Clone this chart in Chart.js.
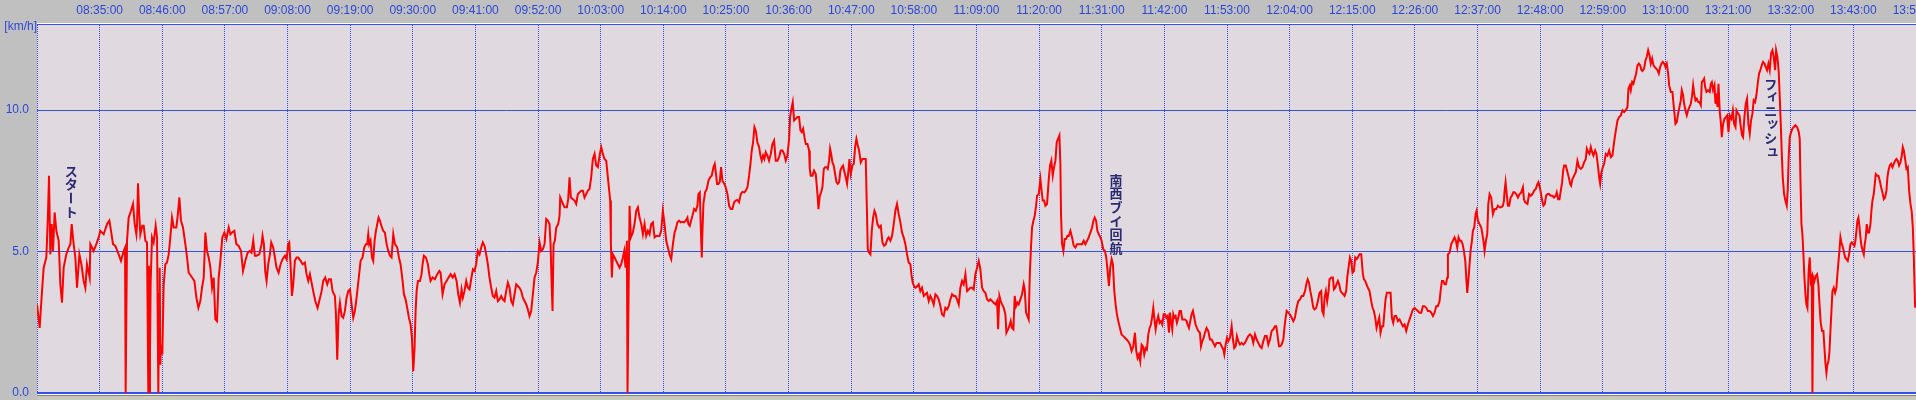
<!DOCTYPE html>
<html lang="ja">
<head>
    <meta charset="UTF-8">
    <title>速度グラフ</title>
    <style>
        body {
            margin: 0;
            background-color: #c0c0c0;
        }
        #speedChart {
            display: block;
        }
    </style>
</head>
<body>
    <canvas id="speedChart" width="1916" height="400"></canvas>
    <script src="https://cdn.jsdelivr.net/npm/chart.js"></script>
    <script>
        // minutes after 08:24:00
        const minutes = [
            0.00, 0.47, 0.88, 1.17, 1.64, 1.93, 2.11, 2.34, 2.58, 2.81,
            3.10, 3.40, 3.81, 4.10, 4.39, 4.68, 5.15, 5.56, 5.86, 6.09,
            6.44, 6.73, 7.03, 7.44, 7.79, 8.20, 8.49, 8.78, 9.25, 9.37,
            9.95, 10.42, 10.83, 11.12, 11.71, 12.30, 12.71, 13.00, 13.35, 13.76,
            14.34, 14.75, 15.22, 15.46, 15.57, 15.81, 16.10, 16.51, 16.86, 17.16,
            17.45, 17.57, 17.74, 17.92, 18.15, 18.50, 18.74, 19.03, 19.32, 19.55,
            19.67, 19.72, 19.84, 19.96, 20.20, 20.49, 20.84, 21.08, 21.31, 21.43,
            21.55, 21.66, 21.78, 22.01, 22.25, 22.54, 22.83, 23.13, 23.42, 23.71,
            24.01, 24.47, 24.71, 25.00, 25.29, 25.64, 26.05, 26.35, 26.64, 27.23,
            27.64, 27.99, 28.34, 28.69, 28.98, 29.28, 29.57, 29.86, 30.15, 30.45,
            30.74, 31.03, 31.32, 31.62, 31.91, 32.20, 32.55, 32.91, 33.26, 33.67,
            33.96, 34.25, 34.66, 35.01, 35.42, 35.83, 36.18, 36.59, 37.00,
            // 08:61 ..
            37.39, 37.68, 37.98, 38.27, 38.56, 39.03, 39.44, 39.61, 39.85, 40.08,
            40.32, 40.61, 40.90, 41.14, 41.49, 41.78, 42.07, 42.43, 42.78, 43.13,
            43.54, 43.83, 44.12, 44.30, 44.53, 44.77, 45.00, 45.29, 45.59, 45.88,
            46.29, 46.64, 47.05, 47.34, 47.64, 47.93, 48.28, 48.51, 48.87, 49.28,
            49.57, 49.98, 50.27, 50.62, 50.97, 51.27, 51.62, 51.91, 52.32, 52.50,
            52.73, 52.97, 53.20, 53.49, 53.78, 54.08, 54.37, 54.66, 54.96, 55.25,
            55.54, 55.83, 56.13, 56.48, 56.83, 57.18, 57.47, 57.77, 58.00, 58.18,
            58.35, 58.58, 58.82, 59.05, 59.29, 59.52, 59.76, 59.99, 60.22, 60.58,
            60.81, 61.10, 61.40, 61.69, 61.98, 62.27, 62.57, 62.86, 63.27, 63.56,
            63.85, 64.21, 64.44, 64.73, 65.02, 65.32, 65.61, 65.85, 66.08, 66.31,
            66.49, 66.67, 66.90, 67.25, 67.54, 67.72, 67.95, 68.30, 68.65, 68.89,
            69.12, 69.47, 69.88, 70.30, 70.65, 70.88, 71.23, 71.58, 71.93, 72.28,
            72.64, 72.99, 73.34, 73.69, 73.98, 74.28, 74.57,
            74.79, 75.08, 75.38, 75.67, 75.96, 76.25, 76.55, 76.84, 77.13, 77.42,
            77.72, 78.01, 78.30, 78.60, 78.89, 79.18, 79.47, 79.77, 80.06, 80.35,
            80.65, 80.94, 81.23, 81.52, 81.82, 82.11, 82.40, 82.69, 82.99, 83.28,
            83.57, 83.87, 84.16, 84.45, 84.74, 85.04, 85.33, 85.62, 85.92, 86.21,
            86.50, 86.79, 87.09, 87.38, 87.67, 87.96, 88.26, 88.55, 88.84, 89.14,
            89.43, 89.72, 90.01, 90.19, 90.37, 90.54, 90.72, 90.95, 91.19, 91.54,
            91.77, 91.89, 92.24, 92.65, 93.06, 93.29, 93.53, 93.76, 94.11, 94.40,
            94.70, 94.99, 95.28, 95.58, 95.87, 96.16, 96.45, 96.75, 97.04, 97.33,
            97.62, 97.92, 98.21, 98.50, 98.80, 99.09, 99.38, 99.67, 99.97, 100.26,
            100.43, 100.67, 100.79, 100.96, 101.14, 101.43, 101.72, 102.02, 102.31, 102.60,
            102.89, 103.13, 103.36, 103.60, 103.71, 103.89, 104.07, 104.30, 104.65, 104.94,
            105.24, 105.53, 105.82, 106.12, 106.41, 106.70, 106.99, 107.29, 107.58, 107.87,
            108.17, 108.46, 108.75, 109.34, 109.63, 109.92, 110.21, 110.51, 110.80, 111.09,
            111.39, 111.68, 111.97,
            112.18, 112.47, 112.77, 113.06, 113.35, 113.64, 113.94, 114.23, 114.40, 114.64,
            114.87, 115.11, 115.40, 115.69, 115.99, 116.16, 116.40, 116.57, 116.75, 116.86,
            117.04, 117.33, 117.63, 117.92, 118.21, 118.50, 118.80, 119.03, 119.21, 119.44,
            119.67, 119.91, 120.14, 120.38, 120.73, 120.96, 121.26, 121.55, 121.84, 122.13,
            122.43, 122.72, 123.01, 123.30, 123.60, 123.89, 124.24, 124.48, 124.77, 125.06,
            125.30, 125.53, 125.76, 126.00, 126.23, 126.52, 126.82, 127.05, 127.29, 127.52,
            127.75, 127.99, 128.28, 128.57, 128.87, 129.16, 129.45, 129.74, 130.04, 130.33,
            130.62, 130.92, 131.21, 131.50, 131.79, 132.09, 132.26, 132.50, 132.73, 132.97,
            133.26, 133.55, 133.84, 134.08, 134.31, 134.55, 134.78, 135.02, 135.31, 135.60,
            135.72, 135.89, 136.19, 136.48, 136.77, 137.07, 137.24, 137.48, 137.71, 137.94,
            138.18, 138.41, 138.65, 138.88, 139.11, 139.29, 139.47, 139.70, 139.93, 140.17,
            140.40, 140.64, 140.87, 141.10, 141.34, 141.57, 141.81, 142.04, 142.27, 142.51,
            142.68, 142.92, 143.21, 143.45, 143.68, 143.91, 144.15, 144.38, 144.67, 144.97,
            145.26, 145.55, 145.73, 145.90, 146.14, 146.37, 146.61, 146.84, 147.08, 147.31,
            147.60, 147.90, 148.19, 148.48, 148.77, 149.07, 149.36,
            149.58, 149.87, 150.17, 150.46, 150.75, 151.04, 151.34, 151.63, 151.92, 152.21,
            152.51, 152.80, 153.09, 153.39, 153.56, 153.80, 154.03, 154.26, 154.62, 154.85,
            155.14, 155.44, 155.73, 156.02, 156.31, 156.61, 156.90, 157.19, 157.48, 157.78,
            158.07, 158.36, 158.66, 158.95, 159.24, 159.53, 159.83, 160.12, 160.41, 160.71,
            161.00, 161.29, 161.58, 161.88, 162.17, 162.46, 162.75, 163.05, 163.34, 163.63,
            163.93, 164.22, 164.51, 164.80, 165.10, 165.39, 165.68, 165.98, 166.27, 166.56,
            166.85, 167.15, 167.44, 167.73, 168.02, 168.32, 168.61, 168.79, 169.02, 169.25,
            169.49, 169.78, 170.07, 170.25, 170.54, 170.78, 171.01, 171.24, 171.48, 171.71,
            171.95, 172.18, 172.41, 172.71, 173.00, 173.29, 173.47, 173.70, 173.94, 174.17,
            174.35, 174.58, 174.76, 174.99, 175.23, 175.46, 175.64, 175.93, 176.22, 176.40,
            176.63, 176.87, 177.10, 177.39, 177.69, 177.92, 178.15, 178.39, 178.62, 178.86,
            179.09, 179.32, 179.56, 179.73, 179.85, 180.03, 180.26, 180.49, 180.73, 180.96,
            181.20, 181.49, 181.78, 182.08, 182.37, 182.66, 182.95, 183.54, 183.83, 184.12,
            184.42, 184.71, 185.00, 185.30, 185.53, 185.76, 186.00, 186.23, 186.47, 186.76,
            186.97, 187.26, 187.56, 187.79, 188.02, 188.26, 188.49, 188.73, 188.96, 189.20,
            189.43, 189.66, 189.90, 190.19, 190.48, 190.78, 191.07, 191.36, 191.65, 191.95,
            192.24, 192.53, 192.83, 193.06, 193.29, 193.53, 193.76, 194.00, 194.23, 194.46,
            194.70, 194.93, 195.17, 195.40, 195.64, 195.87, 196.05, 196.22, 196.46, 196.69,
            196.92, 197.16, 197.39, 197.63, 197.86, 198.09, 198.33, 198.56, 198.80, 198.97,
            199.15, 199.38, 199.56, 199.73, 199.97, 200.20, 200.44, 200.67, 200.90, 201.14,
            201.37, 201.61, 201.90, 202.07, 202.31, 202.54, 202.78, 203.01, 203.25, 203.48,
            203.71, 203.95, 204.24, 204.42, 204.65, 204.89, 205.12, 205.41, 205.71, 206.00,
            206.29, 206.58, 206.88, 207.17, 207.46, 207.76, 208.05, 208.34, 208.52, 208.75,
            208.99, 209.22, 209.51, 209.81, 210.04, 210.27, 210.51, 210.74, 210.98, 211.27,
            211.56, 211.86, 212.15, 212.44, 212.73, 213.03, 213.32, 213.61, 213.91, 214.20,
            214.49, 214.78, 215.08, 215.37, 215.66, 215.96, 216.25, 216.54, 216.83, 217.13,
            217.42, 217.65, 217.89, 218.12, 218.35, 218.59, 218.88, 219.17, 219.47, 219.76,
            220.05, 220.35, 220.64, 220.93, 221.22, 221.52, 221.81, 222.10, 222.39, 222.69,
            222.98, 223.16, 223.39, 223.63, 223.86, 224.15,
            224.37, 224.66, 224.96, 225.25, 225.54, 225.72, 225.95, 226.13, 226.36, 226.59,
            226.83, 227.00, 227.30, 227.59, 227.77, 228.00, 228.23, 228.47, 228.70, 228.94,
            229.17, 229.41, 229.64, 229.93, 230.11, 230.34, 230.58, 230.81, 231.04, 231.28,
            231.51, 231.75, 231.98, 232.27, 232.57, 232.86, 233.04, 233.27, 233.50, 233.74,
            234.03, 234.32, 234.56, 234.79, 235.03, 235.26, 235.49, 235.73, 235.96, 236.20,
            236.43, 236.66, 236.84, 237.07, 237.37, 237.72, 237.95, 238.19, 238.42, 238.71,
            239.01, 239.30, 239.59, 239.89, 240.18, 240.47, 240.76, 241.06, 241.35, 241.64,
            241.94, 242.23, 242.52, 242.81, 243.11, 243.40, 243.69, 243.98, 244.28, 244.57,
            244.86, 245.16, 245.45, 245.74, 246.03, 246.33, 246.50, 246.74, 246.97, 247.21,
            247.44, 247.67, 247.79, 248.08, 248.38, 248.67, 248.96, 249.20, 249.43, 249.66,
            249.90, 250.13, 250.37, 250.60, 250.84, 251.01, 251.19, 251.42, 251.60, 251.77,
            252.01, 252.18, 252.42, 252.65, 252.83, 253.06, 253.35, 253.65, 253.94, 254.11,
            254.23, 254.47, 254.70, 254.88, 255.11, 255.40, 255.70, 255.99, 256.28, 256.57,
            256.87, 257.16, 257.45, 257.63, 257.75, 257.92, 258.15, 258.33, 258.56, 258.80,
            259.03, 259.27, 259.50, 259.79, 260.09, 260.38, 260.67, 260.97, 261.14, 261.37,
            261.76, 262.05, 262.35, 262.64, 262.93, 263.22, 263.52, 263.69, 263.93, 264.10,
            264.34, 264.57, 264.81, 265.04, 265.27, 265.57, 265.86, 266.15, 266.44, 266.74,
            266.91, 267.15, 267.38, 267.62, 267.85, 268.03, 268.20, 268.49, 268.79, 269.02,
            269.26, 269.43, 269.66, 269.96, 270.25, 270.54, 270.84, 271.13, 271.42, 271.71,
            272.01, 272.18, 272.42, 272.65, 272.89, 273.12, 273.35, 273.65, 273.88, 274.17,
            274.35, 274.53, 274.76, 275.00, 275.23, 275.52, 275.81, 276.11, 276.40, 276.69,
            276.87, 277.10, 277.34, 277.57, 277.86, 278.16, 278.45, 278.74, 279.03, 279.33,
            279.50, 279.74, 279.91, 280.15, 280.38, 280.61, 280.85, 281.08, 281.32, 281.55,
            281.79, 281.96, 282.25, 282.49, 282.72, 282.96, 283.19, 283.42, 283.66, 283.89,
            284.13, 284.36, 284.59, 284.83, 285.06, 285.30, 285.53, 285.77, 286.00, 286.23,
            286.47, 286.65, 286.94, 287.23, 287.41, 287.58, 287.76, 287.99, 288.23, 288.46,
            288.69, 288.87, 289.10, 289.28, 289.51, 289.75, 289.98, 290.22, 290.45, 290.68,
            290.86, 291.04, 291.27, 291.50, 291.74, 291.97, 292.21, 292.38, 292.62, 292.79,
            292.97, 293.20, 293.49, 293.79, 293.96, 294.14, 294.37, 294.61, 294.78, 294.96,
            295.13, 295.31, 295.54, 295.72, 295.89, 296.13, 296.36, 296.60, 296.83, 297.07,
            297.30, 297.59, 297.83, 298.06, 298.30, 298.47, 298.77, 299.00,
            299.16, 299.45, 299.63, 299.86, 300.10, 300.33, 300.56, 300.80, 301.03, 301.27,
            301.50, 301.74, 301.97, 302.20, 302.44, 302.67, 302.91, 303.14, 303.38, 303.61,
            303.84, 304.08, 304.31, 304.55, 304.78, 305.02, 305.25, 305.43, 305.66, 305.89,
            306.07, 306.25, 306.42, 306.60, 306.83, 307.06, 307.30, 307.48, 307.65, 307.83,
            308.06, 308.29, 308.53, 308.82, 309.11, 309.41, 309.58, 309.70, 309.88, 310.05,
            310.23, 310.40, 310.58, 310.75, 310.93, 311.16, 311.34, 311.52, 311.69, 311.81,
            311.98, 312.16, 312.39, 312.63, 312.86, 313.09, 313.27, 313.51, 313.74, 313.92,
            314.09, 314.27, 314.44, 314.62, 314.79, 314.97, 315.15, 315.32, 315.55, 315.79,
            316.02, 316.20, 316.37, 316.55, 316.73, 316.90, 317.08, 317.31, 317.55, 317.78,
            318.01, 318.25, 318.48, 318.72, 318.95, 319.19, 319.36, 319.54, 319.71, 319.89,
            320.06, 320.24, 320.42, 320.65, 320.83, 321.00, 321.18, 321.35, 321.53, 321.76,
            322.00, 322.17, 322.35, 322.58, 322.76, 322.93, 323.17, 323.40, 323.64, 323.87,
            324.11, 324.34, 324.57, 324.81, 324.98, 325.16, 325.39, 325.63, 325.86, 326.10,
            326.33, 326.56, 326.80, 327.03, 327.27, 327.50, 327.68, 327.86, 328.09, 328.32,
            328.56, 328.79, 329.03, 329.26, 329.44, 329.62, 329.73, 329.85
        ];

        // km/h
        const speed = [
            3.13, 2.30, 3.60, 4.43, 4.79, 6.32, 7.68, 4.90, 5.97, 5.02,
            6.38, 5.73, 5.38, 3.84, 3.19, 4.43, 4.90, 5.14, 5.26, 5.97,
            5.26, 4.79, 3.72, 4.90, 4.55, 3.96, 3.72, 4.55, 4.08, 5.26,
            5.02, 5.26, 5.50, 5.73, 5.61, 5.97, 6.09, 5.73, 5.26, 5.20,
            4.90, 4.67, 5.02, 5.14, 0, 5.38, 6.20, 6.44, 6.68, 5.97,
            5.61, 5.97, 7.41, 6.44, 5.61, 5.91, 5.91, 5.38, 5.32, 0,
            4.50, 0, 1.36, 3.90, 5.50, 5.32, 5.91, 5.50, 0, 3.50,
            4.43, 1.00, 1.71, 1.36, 3.84, 4.55, 4.61, 4.90, 5.50, 6.20,
            5.85, 5.85, 6.26, 6.91, 6.09, 5.85, 5.26, 4.79, 4.25, 4.08,
            3.96, 3.37, 3.01, 3.25, 3.72, 4.08, 5.67, 5.02, 4.79, 4.43,
            3.72, 4.08, 2.60, 2.54, 4.08, 4.67, 5.50, 5.67, 5.44, 5.85,
            5.61, 5.67, 5.73, 5.26, 5.20, 5.02, 4.31, 4.67, 4.96,
            5.02, 4.96, 5.40, 4.85, 4.85, 4.90, 5.26, 5.55, 5.26, 4.31,
            3.96, 4.55, 4.90, 5.32, 5.14, 4.79, 4.43, 4.25, 4.55, 4.73,
            4.85, 4.73, 5.26, 5.32, 4.55, 3.43, 3.84, 4.67, 4.79, 4.79,
            4.67, 4.55, 4.61, 4.20, 3.96, 4.20, 3.84, 3.60, 3.25, 3.01,
            3.25, 3.60, 3.96, 4.08, 3.84, 4.02, 4.02, 3.60, 3.43, 2.78,
            1.18, 2.78, 3.19, 2.72, 2.66, 2.90, 3.37, 3.60, 3.66, 3.13,
            2.66, 2.90, 3.37, 4.02, 4.67, 4.79, 5.14, 5.26, 5.26, 5.61,
            5.26, 5.38, 4.79, 4.67, 5.38, 5.73, 5.97, 6.20, 6.09, 5.85,
            5.73, 5.67, 5.26, 5.02, 4.85, 4.79, 5.61, 5.26, 5.14, 4.79,
            4.55, 3.96, 3.49, 3.31, 3.01, 2.66, 2.42, 1.95, 0.77, 1.59,
            2.90, 3.60, 3.96, 3.96, 4.20, 4.55, 4.85, 4.79, 4.55, 4.20,
            3.96, 4.08, 4.02, 4.20, 4.31, 4.25, 3.49, 3.84, 3.96, 4.08,
            4.20, 4.08, 4.20, 3.96, 3.49, 3.19, 3.66,
            3.37, 3.60, 3.96, 3.72, 3.66, 4.02, 4.37, 4.31, 4.55, 5.02,
            4.90, 5.14, 5.32, 5.20, 4.90, 4.55, 4.08, 3.72, 3.43, 3.37,
            3.60, 3.25, 3.31, 3.43, 3.31, 3.25, 3.60, 3.90, 3.72, 3.25,
            3.13, 3.49, 3.84, 3.78, 3.72, 3.60, 3.37, 3.25, 3.13, 2.95,
            2.72, 2.90, 3.49, 4.08, 4.25, 4.61, 5.32, 5.02, 5.08, 5.26,
            6.15, 6.09, 5.97, 5.26, 3.96, 2.90, 5.26, 5.38, 5.85, 5.97,
            6.26, 6.91, 6.74, 6.56, 6.56, 6.85, 7.62, 6.91, 6.85, 6.80,
            6.68, 7.03, 7.09, 7.15, 7.15, 6.91, 7.03, 7.15, 7.21, 7.62,
            8.27, 8.45, 8.04, 7.98, 8.39, 8.69, 8.45, 8.27, 8.21, 7.62,
            7.27, 6.80, 5.26, 4.08, 4.90, 4.79, 4.67, 4.55, 4.43, 4.55,
            4.79, 5.02, 4.43, 5.38, 0, 3.37, 6.62, 5.50, 5.67, 5.97,
            6.44, 6.56, 6.20, 5.97, 5.61, 5.97, 5.55, 5.73, 5.61, 5.97,
            6.03, 5.50, 5.55, 5.55, 5.73, 6.44, 5.97, 5.38, 5.14, 4.90,
            4.73, 5.26, 5.67,
            5.79, 6.03, 6.09, 6.03, 6.05, 6.03, 6.09, 6.20, 5.97, 5.91,
            6.09, 6.26, 6.50, 6.44, 6.62, 7.03, 7.09, 5.91, 4.79, 5.67,
            6.68, 7.09, 7.21, 7.50, 7.62, 7.68, 7.98, 8.10, 7.80, 7.39,
            7.39, 7.45, 7.98, 7.50, 7.39, 7.27, 7.03, 6.62, 6.50, 6.50,
            6.74, 6.80, 6.82, 6.74, 7.03, 7.11, 7.09, 7.15, 7.27, 7.68,
            8.10, 8.57, 8.86, 9.40, 9.28, 8.86, 8.69, 8.39, 8.21, 8.39,
            8.27, 8.51, 8.39, 8.21, 8.45, 8.80, 8.92, 8.21, 8.21, 8.33,
            8.57, 8.57, 8.45, 8.21, 8.39, 8.98, 9.75, 10.05, 10.28, 9.63,
            9.69, 9.75, 9.75, 9.28, 9.22, 9.34, 9.04, 8.80, 8.80, 8.57,
            7.92, 7.68, 7.68, 7.86, 7.74, 7.03, 6.50, 6.97, 7.09, 7.27,
            7.92, 7.98, 7.98, 7.92, 8.21, 8.63, 8.45, 8.15, 8.04, 7.74,
            7.45, 7.39, 7.45, 7.86, 7.98, 8.04, 7.80, 7.62, 7.39, 7.86,
            8.27, 7.74, 8.04, 8.10, 8.69, 8.98, 8.75, 8.57, 8.15, 8.27,
            8.27, 8.27, 6.68, 5.08, 4.96, 4.90, 5.73, 6.20, 6.44, 6.32,
            5.97, 5.85, 5.91, 5.32, 5.20, 5.26, 5.44,
            5.50, 5.38, 5.55, 5.97, 6.44, 6.68, 6.32, 6.03, 5.67, 5.50,
            5.26, 4.90, 4.61, 4.55, 4.20, 3.90, 3.78, 3.72, 3.78, 3.84,
            3.60, 3.72, 3.43, 3.49, 3.54, 3.25, 3.43, 3.31, 3.13, 3.49,
            3.43, 3.31, 3.07, 2.78, 2.72, 3.01, 2.95, 3.07, 3.31, 3.49,
            3.43, 3.43, 3.31, 3.13, 3.72, 3.96, 3.84, 4.20, 3.60, 3.66,
            3.72, 3.72, 3.66, 4.20, 4.43, 4.67, 4.37, 3.72, 3.60, 3.54,
            3.31, 3.25, 3.31, 3.25, 3.19, 3.13, 3.25, 2.25, 3.43, 3.25,
            3.13, 3.01, 2.78, 2.13, 2.25, 2.36, 2.54, 2.30, 2.25, 3.43,
            3.07, 3.19, 3.13, 3.31, 3.49, 3.84, 3.66, 2.84, 2.72, 2.60,
            4.14, 5.20, 5.85, 6.09, 6.26, 6.62, 6.97, 7.03, 7.56, 7.21,
            6.80, 6.80, 6.62, 6.68, 7.56, 8.04, 8.21, 7.68, 7.98, 8.21,
            8.86, 8.98, 9.10, 8.10, 6.26, 5.26, 5.02, 5.44, 5.44, 5.55,
            5.55, 5.73, 5.50, 5.20, 5.14, 5.26, 5.26, 5.26, 5.38, 5.26,
            5.38, 5.50, 5.67, 5.85, 6.09, 6.20, 6.09, 5.73, 5.61, 5.50,
            5.38, 5.08, 5.02, 4.79, 4.31, 3.78, 4.43, 4.73, 4.55, 3.60,
            3.13, 2.78, 2.54, 2.30, 2.07, 2.01, 1.95, 1.89, 1.83, 1.71,
            1.48, 1.65, 2.13, 1.48, 1.24, 1.36, 1.12, 1.71, 1.65, 1.36,
            1.59, 1.54, 2.07, 2.30, 2.42, 2.72, 3.01, 2.66, 2.25, 2.54,
            2.72, 2.48, 2.54, 2.42, 2.78, 2.78, 2.66, 2.72, 2.13, 2.84,
            2.54, 2.25, 2.78, 2.66, 2.72, 2.48, 2.66, 2.90, 2.90, 2.60,
            2.60, 2.60, 2.54, 2.42, 2.30, 2.54, 2.78, 2.90, 2.66, 2.42,
            2.30, 2.19, 2.13, 1.65, 1.83, 1.95, 2.13, 2.30, 2.19, 1.89,
            1.89, 1.77, 1.65, 1.77, 1.77, 1.77, 1.65, 1.54, 1.36, 1.71,
            1.95, 1.83, 1.95, 2.36, 1.89, 1.59, 1.65, 2.01, 1.83, 1.71,
            1.77, 1.71, 1.77, 1.89, 2.01, 2.07, 2.01, 1.77, 2.07, 1.89,
            1.77, 1.65, 1.59, 1.83, 2.01, 2.01, 1.71, 1.89, 2.19, 2.25,
            2.36, 2.36, 2.01, 1.65, 1.65, 1.71, 1.89, 2.48, 2.90, 2.84,
            2.78, 2.66, 2.54, 2.66, 3.01, 3.25, 3.31, 3.43, 3.43, 3.60,
            3.90, 4.02, 3.90, 3.60, 3.37, 3.01,
            2.95, 3.01, 3.25, 3.54, 3.60, 2.90, 2.78, 3.37, 3.60, 3.25,
            3.60, 4.02, 4.08, 4.08, 3.66, 3.72, 3.84, 3.96, 3.84, 3.60,
            3.54, 3.49, 3.43, 3.60, 4.08, 4.43, 4.79, 4.67, 4.25, 4.31,
            4.79, 4.73, 4.79, 4.90, 4.90, 4.20, 4.02, 3.96, 3.84, 3.72,
            3.60, 3.25, 3.01, 2.90, 2.66, 2.30, 2.48, 2.66, 2.13, 2.36,
            2.36, 2.90, 3.31, 3.54, 3.54, 3.54, 2.66, 2.48, 2.72, 2.72,
            2.54, 2.60, 2.48, 2.36, 2.42, 2.19, 2.42, 2.60, 2.78, 2.95,
            3.01, 2.95, 2.90, 2.84, 2.84, 3.07, 3.07, 3.01, 2.90, 2.90,
            2.84, 2.72, 2.84, 3.07, 3.07, 3.25, 3.60, 3.96, 3.96, 3.84,
            3.84, 4.08, 4.90, 4.96, 5.26, 5.38, 5.50, 5.38, 5.14, 5.50,
            5.38, 5.38, 5.26, 5.02, 4.67, 4.08, 3.54, 4.08, 4.55, 5.02,
            5.38, 5.73, 5.85, 6.32, 6.44, 6.09, 5.97, 5.85, 5.50, 5.26,
            5.02, 5.38, 5.61, 6.68, 7.03, 6.91, 6.32, 6.50, 6.50, 6.62,
            6.56, 6.56, 6.62, 6.80, 7.15, 7.45, 6.97, 6.62, 6.62, 6.91,
            6.97, 7.09, 7.09, 7.03, 6.91, 7.03, 7.09, 7.27, 6.85, 6.74,
            6.68, 7.03, 6.97, 7.03, 7.15, 7.21, 7.39, 7.45, 7.27, 7.09,
            6.80, 6.62, 6.68, 6.97, 7.03, 7.03, 6.97, 6.97, 6.91, 6.97,
            7.09, 6.85, 6.85, 7.15, 7.45, 7.86, 8.04, 8.04, 7.80, 7.62,
            7.39, 7.33, 7.56, 7.68, 7.80, 8.21, 7.98, 7.92, 7.98, 8.15,
            8.27, 8.63, 8.51, 8.45, 8.69, 8.51, 8.39, 8.57, 8.45, 7.98,
            7.62, 7.39, 7.80, 7.98, 8.10, 8.45, 8.39, 8.57, 8.33, 8.39,
            8.69, 9.04, 9.34, 9.63, 9.75, 9.81, 9.99, 9.93, 9.99, 10.11,
            10.76, 10.87, 10.70, 10.99, 10.93, 11.11, 11.29, 11.58, 11.64, 11.58,
            11.41, 11.38, 11.46, 11.76, 11.88, 12.11, 11.94, 11.64, 11.82, 11.58,
            11.52, 11.46, 11.41, 11.29, 11.52, 11.64, 11.70, 11.64, 11.52, 11.64,
            11.29, 10.87, 10.64, 10.64, 10.22, 9.87, 9.51, 9.57, 9.87, 10.11,
            10.34, 10.70, 10.52, 10.22, 9.99, 9.81, 9.99, 10.11, 10.22, 10.52,
            10.87, 10.58, 10.34, 10.40, 10.28, 10.28, 10.17, 10.99, 11.05, 11.11,
            10.81, 10.64, 10.70, 10.64, 10.93, 10.99, 10.70, 10.87, 10.22, 10.58,
            10.11, 10.93, 9.93, 9.57, 9.04, 9.51, 9.69, 9.75, 9.81, 9.22,
            9.81, 9.69, 9.99, 9.51, 9.40, 9.99, 9.87, 9.81,
            9.51, 9.10, 9.04, 9.75, 10.22, 10.40, 9.51, 9.16, 9.63, 9.87,
            10.34, 10.28, 10.52, 10.93, 11.29, 11.41, 11.58, 11.70, 11.64, 11.52,
            11.41, 11.64, 11.41, 12.00, 12.11, 11.88, 11.41, 12.11, 11.88, 11.35,
            10.46, 9.51, 8.51, 7.62, 7.03, 6.80, 6.62, 7.21, 8.39, 9.04,
            9.22, 9.34, 9.40, 9.46, 9.40, 9.22, 8.98, 7.62, 5.97, 5.61,
            4.90, 4.08, 3.49, 3.13, 3.01, 4.37, 4.79, 3.96, 4.08, 0,
            4.08, 3.96, 4.14, 4.20, 3.84, 3.01, 2.48, 2.19, 2.19, 1.59,
            1.06, 0.71, 1.00, 1.12, 1.42, 2.19, 2.90, 3.60, 3.72, 3.54,
            3.72, 4.20, 4.61, 5.02, 5.50, 5.32, 5.20, 5.02, 4.79, 4.73,
            4.67, 4.90, 5.26, 5.32, 5.26, 5.20, 5.38, 5.73, 6.09, 6.20,
            5.91, 5.50, 5.20, 5.02, 4.90, 5.26, 5.50, 5.97, 5.67, 5.67,
            5.97, 6.44, 6.80, 7.03, 7.39, 7.74, 7.68, 7.68, 7.50, 7.27,
            7.09, 6.85, 6.91, 7.15, 7.62, 7.86, 8.04, 8.10, 7.98, 8.10,
            8.21, 8.27, 8.21, 8.04, 8.15, 8.39, 8.69, 8.57, 8.27, 7.92,
            7.98, 7.15, 6.68, 6.38, 5.85, 4.79, 3.84, 3.01
        ];

        // x grid every 11 minutes from 08:24:00
        const tickMinutes = [0, 11, 22, 33, 44, 55, 66, 77, 88, 99, 110, 121, 132, 143, 154, 165,
            176, 187, 198, 209, 220, 231, 242, 253, 264, 275, 286, 297, 308, 319, 330];
        const tickLabels = ['', '08:35:00', '08:46:00', '08:57:00', '09:08:00', '09:19:00', '09:30:00',
            '09:41:00', '09:52:00', '10:03:00', '10:14:00', '10:25:00', '10:36:00', '10:47:00',
            '10:58:00', '11:09:00', '11:20:00', '11:31:00', '11:42:00', '11:53:00', '12:04:00',
            '12:15:00', '12:26:00', '12:37:00', '12:48:00', '12:59:00', '13:10:00', '13:21:00',
            '13:32:00', '13:43:00', '13:54:00'];
        const yTicks = [0, 5, 10];
        const yMax = 13.04;
        const unitLabel = '[km/h]';

        // vertical notes: text, time (minutes), top of text (km/h)
        const noteText = ['スタート', '南西ブイ回航', 'フィニッシュ'];
        const noteMinute = [6.0, 189.5, 304.5];
        const noteTop = [8.09, 7.77, 11.17];

        if (minutes.length !== speed.length) {
            throw new Error('minutes/speed length mismatch: ' + minutes.length + ' vs ' + speed.length);
        }

        const blue = '#2d46d8';
        const gridBlue = '#3550e6';

        // grey frame, plot background and the small strips around it
        const backdrop = {
            id: 'backdrop',
            beforeDraw(chart) {
                const {ctx, chartArea: a, width, height} = chart;
                ctx.save();
                ctx.fillStyle = '#c0c0c0';
                ctx.fillRect(0, 0, width, height);
                ctx.fillStyle = '#ffffff';
                ctx.fillRect(a.left, a.top - 1, width - a.left, 1);
                ctx.fillRect(a.left, a.bottom + 1, width - a.left, 1);
                ctx.fillStyle = '#808080';
                ctx.fillRect(a.left, a.bottom + 2, width - a.left, 1);
                ctx.fillStyle = '#cacabc';
                ctx.fillRect(a.left, a.bottom + 3, width - a.left, height - a.bottom - 3);
                ctx.fillStyle = '#e0dae0';
                ctx.fillRect(a.left, a.top, a.right - a.left, a.bottom - a.top);
                ctx.restore();
            },
            afterDraw(chart) {
                const {ctx, chartArea: a} = chart;
                ctx.save();
                ctx.fillStyle = blue;
                ctx.font = '12px "Liberation Sans"';
                ctx.textAlign = 'right';
                ctx.textBaseline = 'middle';
                ctx.fillText(unitLabel, a.left, a.top + 3);
                ctx.restore();
            }
        };

        // vertical Japanese notes
        const notes = {
            id: 'notes',
            afterDatasetsDraw(chart) {
                const {ctx, scales} = chart;
                const step = 13.6;
                const small = 'ィッュャョァ';
                ctx.save();
                ctx.fillStyle = '#2a2a72';
                ctx.font = 'bold 13px "Noto Sans CJK JP"';
                ctx.textAlign = 'center';
                ctx.textBaseline = 'middle';
                noteText.forEach((text, i) => {
                    const x = scales.x.getPixelForValue(noteMinute[i]);
                    let y = scales.y.getPixelForValue(noteTop[i]) + step / 2;
                    for (const ch of text) {
                        if (ch === 'ー') {
                            ctx.save();
                            ctx.translate(x, y);
                            ctx.rotate(Math.PI / 2);
                            ctx.fillText(ch, 0, 0);
                            ctx.restore();
                        } else if (small.includes(ch)) {
                            ctx.fillText(ch, x + 2, y - 2);
                        } else {
                            ctx.fillText(ch, x, y);
                        }
                        y += step;
                    }
                });
                ctx.restore();
            }
        };

        const ctx = document.getElementById('speedChart').getContext('2d');
        const speedChart = new Chart(ctx, {
            type: 'line',
            data: {
                datasets: [{
                    label: '速度',
                    data: minutes.map((m, i) => ({x: m, y: speed[i]})),
                    borderColor: '#ff0000',
                    borderWidth: 2,
                    pointRadius: 0,
                    tension: 0,
                    fill: false
                }]
            },
            options: {
                responsive: false,
                animation: false,
                layout: {
                    padding: {left: 0, right: 0, top: 0, bottom: 7}
                },
                plugins: {
                    legend: {display: false},
                    tooltip: {enabled: false}
                },
                scales: {
                    x: {
                        type: 'linear',
                        position: 'top',
                        min: 0,
                        max: 330,
                        afterBuildTicks: scale => {
                            scale.ticks = tickMinutes.map(v => ({value: v}));
                        },
                        afterFit: scale => {
                            scale.height = 24;
                            scale.paddingLeft = 0;
                            scale.paddingRight = 0;
                        },
                        ticks: {
                            autoSkip: false,
                            maxRotation: 0,
                            padding: 6,
                            color: blue,
                            font: {family: 'Liberation Sans', size: 12},
                            callback: (value, index) => tickLabels[index]
                        },
                        grid: {
                            color: gridBlue,
                            lineWidth: 1,
                            drawTicks: false
                        },
                        border: {
                            display: true,
                            color: gridBlue,
                            width: 1,
                            dash: [1, 1]
                        }
                    },
                    y: {
                        min: 0,
                        max: yMax,
                        afterBuildTicks: scale => {
                            scale.ticks = yTicks.map(v => ({value: v}));
                        },
                        afterFit: scale => {
                            scale.width = 37;
                            scale.paddingTop = 0;
                            scale.paddingBottom = 0;
                        },
                        ticks: {
                            padding: 8,
                            color: blue,
                            font: {family: 'Liberation Sans', size: 12},
                            callback: value => value.toFixed(1)
                        },
                        grid: {
                            color: gridBlue,
                            drawTicks: false,
                            lineWidth: c => (c.tick && c.tick.value === 0 ? 2 : 1)
                        },
                        border: {display: false}
                    }
                }
            },
            plugins: [backdrop, notes]
        });
    </script>
</body>
</html>
